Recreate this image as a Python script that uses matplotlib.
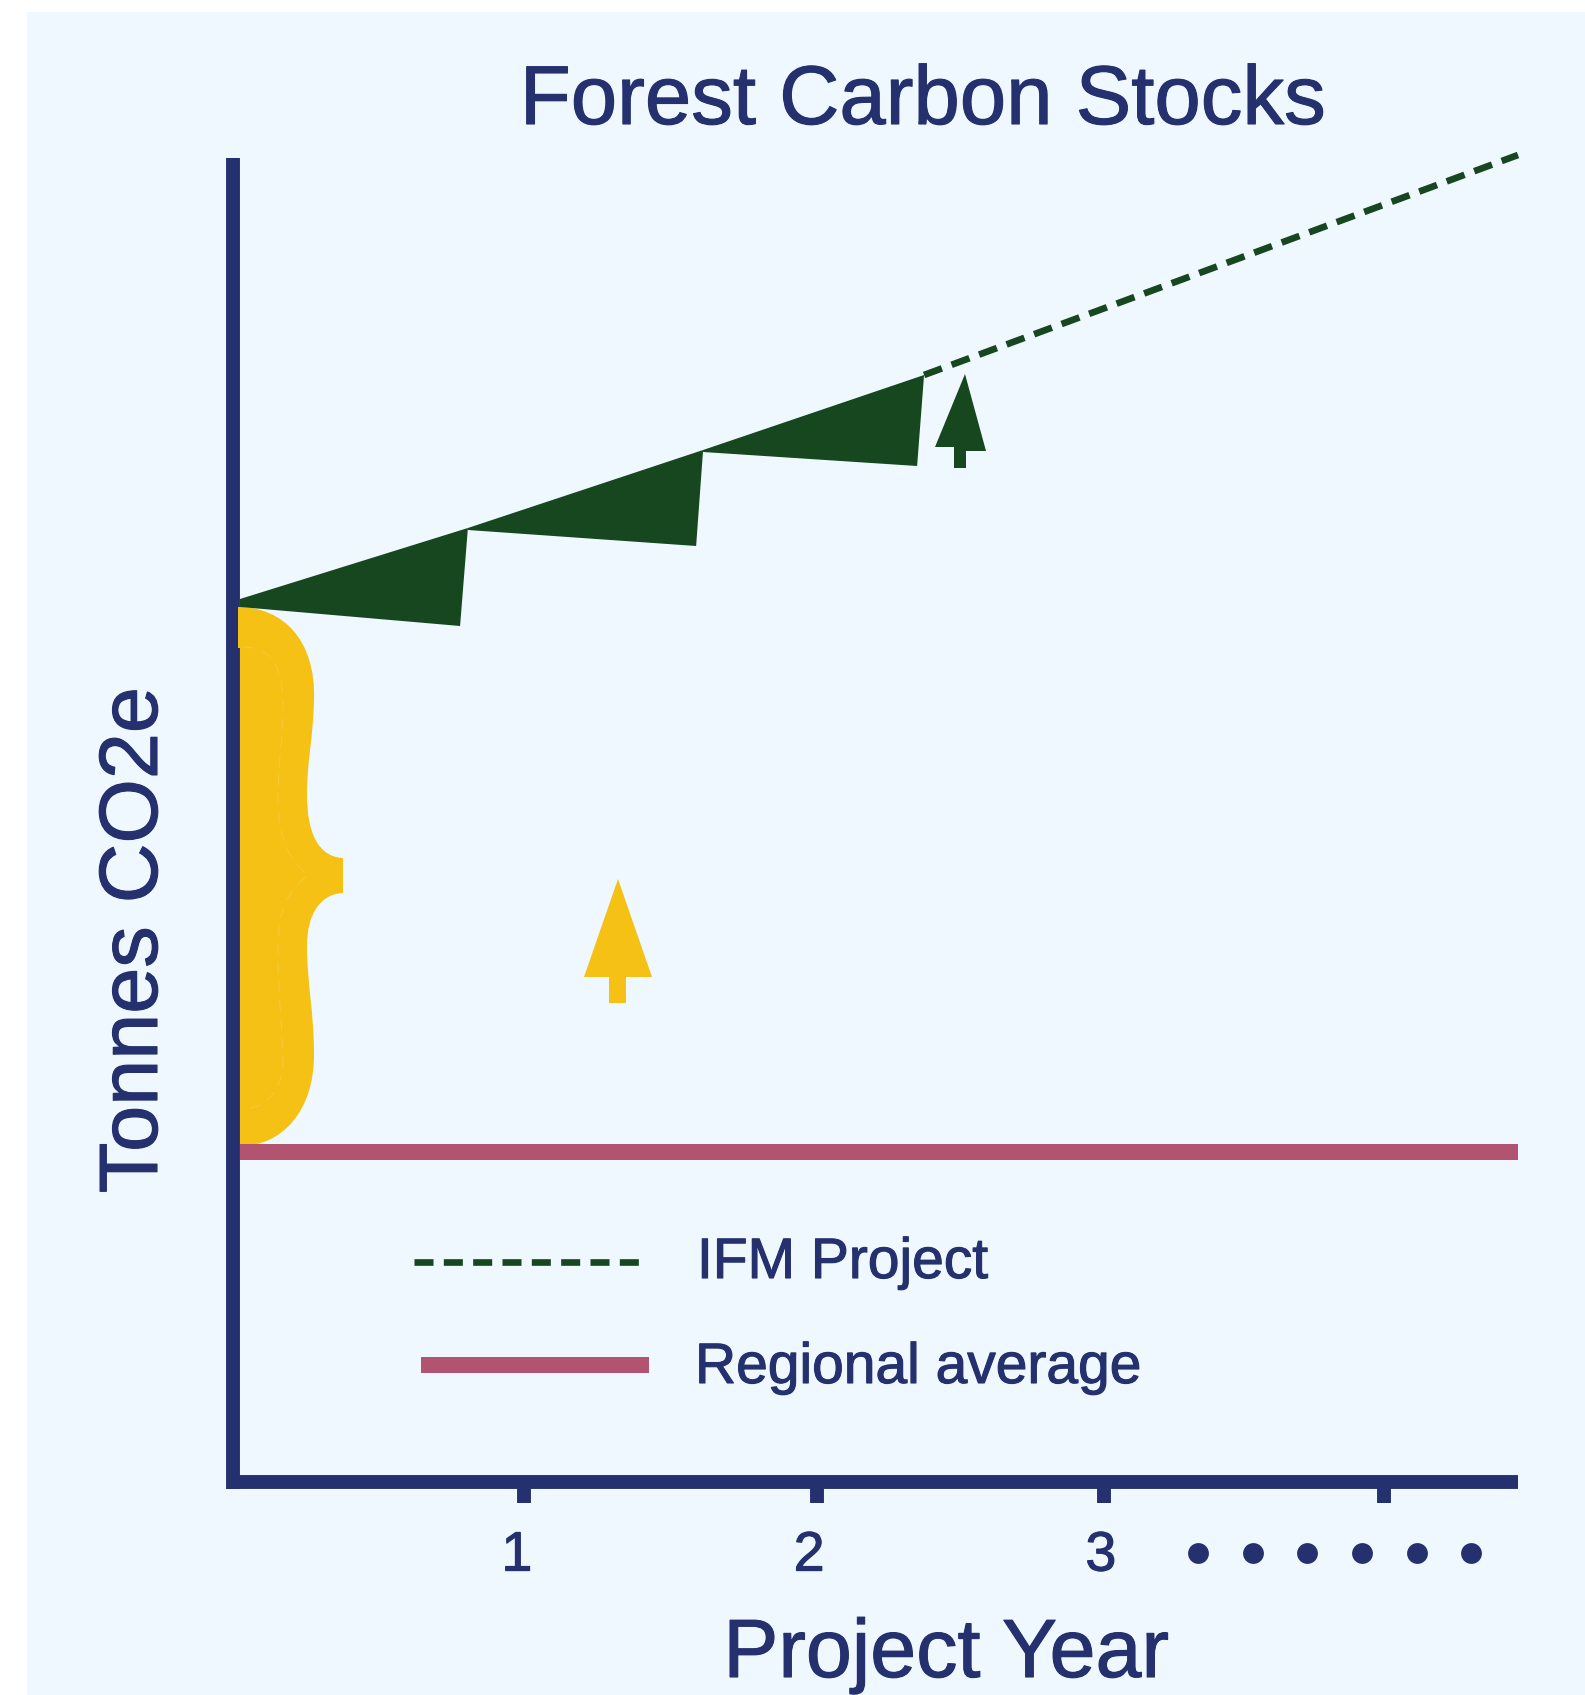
import matplotlib
matplotlib.use('Agg')
import matplotlib.pyplot as plt
import matplotlib.patheffects as pe
from matplotlib.patches import PathPatch, Polygon, Rectangle
from matplotlib.path import Path
from matplotlib.transforms import ScaledTranslation

W, H = 1585, 1695

# project years / tonnes (arbitrary units, the chart has no y scale)
project_x = [2.383, 4.431]
project_y = [11.07, 13.27]
regional_x = [0.024, 4.431]
regional_y = [3.305, 3.305]
wedge_top_x = [0.024, 0.81, 1.621, 2.383]
wedge_top_y = [8.83, 9.54, 10.32, 11.07]
wedge_start_x = [0.024, 0.81, 1.621]
wedge_start_y = [8.75, 9.52, 10.30]
wedge_low_x = [0.783, 1.597, 2.359]
wedge_low_y = [8.56, 9.36, 10.16]
tick_years = [1.003, 2.014, 3.003, 3.969]
tick_labels = ['1', '2', '3', '']
label_shift = [-7, -8, -3, 0]

navy = '#24316E'
green = '#17471F'
yellow = '#F4C114'
maroon = '#B25370'
panel = '#EFF8FE'

plt.rcParams['font.family'] = ['Liberation Sans', 'DejaVu Sans']
heavy = [pe.withStroke(linewidth=0.8, foreground=navy)]
dashes = (0, (2.85, 1.55))

fig = plt.figure(figsize=(W / 100, H / 100), dpi=100, facecolor='white')

# full figure layer in pixels for the drawn decoration and loose text
deco = fig.add_axes([0, 0, 1, 1])
deco.set_xlim(0, W)
deco.set_ylim(H, 0)
deco.axis('off')
deco.add_patch(Rectangle((27, 12), W - 27, H - 12, color=panel, lw=0))

ax = fig.add_axes([233 / W, (H - 1482) / H, (1518 - 233) / W, 1350 / H])
ax.patch.set_alpha(0)
ax.set_xlim(0, (1518 - 233) / 290)
ax.set_ylim(0, 13.5)

for s in ['top', 'right']:
    ax.spines[s].set_visible(False)
for s in ['left', 'bottom']:
    ax.spines[s].set_linewidth(10)
    ax.spines[s].set_color(navy)
    ax.spines[s].set_capstyle('butt')
ax.spines['left'].set_bounds(-0.07, 13.24)
ax.set_yticks([])
ax.set_xticks(tick_years)
ax.set_xticklabels(tick_labels)
ax.tick_params(axis='x', length=15, width=10, color=navy, labelcolor=navy,
               labelsize=40, pad=20)
for lab, dx in zip(ax.get_xticklabels(), label_shift):
    lab.set_transform(lab.get_transform() + ScaledTranslation(dx / 100, 0, fig.dpi_scale_trans))
    lab.set_path_effects(heavy)

# yearly growth wedges
for i in range(3):
    pts = [(wedge_top_x[i], wedge_top_y[i]),
           (wedge_top_x[i + 1], wedge_top_y[i + 1]),
           (wedge_low_x[i], wedge_low_y[i]),
           (wedge_start_x[i], wedge_start_y[i])]
    ax.add_patch(Polygon(pts, closed=True, facecolor=green, edgecolor='none', zorder=6))

ax.plot(project_x, project_y, color=green, lw=4.8, ls=dashes,
        dash_capstyle='butt', clip_on=False, zorder=5)
ax.plot(regional_x, regional_y, color=maroon, lw=11.5, solid_capstyle='butt', zorder=4)

# curly brace
C = Path.CURVE4
brace = [(238, 607),
         (283, 607), (316, 640), (314, 700),
         (313, 740), (307, 760), (307, 795),
         (307, 832), (318, 857), (343, 858),
         (343, 893),
         (320, 894), (307, 915), (307, 945),
         (307, 985), (314, 1010), (314, 1055),
         (314, 1110), (283, 1146), (240, 1146),
         (240, 648), (238, 648), (238, 607)]
codes = [Path.MOVETO, C, C, C, C, C, C, C, C, C, Path.LINETO, C, C, C, C, C, C, C, C, C,
         Path.LINETO, Path.LINETO, Path.CLOSEPOLY]
ax.add_patch(PathPatch(Path(brace, codes), facecolor=yellow, edgecolor='none', zorder=3,
                       transform=deco.transData, clip_on=False))
seam = [(243, 647),
        (270, 647), (283, 665), (283, 704),
        (283, 740), (278, 760), (278, 800),
        (278, 840), (290, 860), (308, 875),
        (290, 890), (278, 905), (278, 950),
        (278, 1000), (283, 1030), (283, 1062),
        (283, 1085), (270, 1105), (250, 1108)]
seam_codes = [Path.MOVETO] + [C] * 18
ax.add_patch(PathPatch(Path(seam, seam_codes), facecolor='none', edgecolor='#F5C838', lw=0.9,
                       ls=(0, (9, 6)), zorder=3.5, transform=deco.transData, clip_on=False))


def tree(base_l, base_r, apex, trunk, color):
    pts = [apex, base_r, (trunk[1], base_r[1]), (trunk[1], trunk[2]), (trunk[0], trunk[2]),
           (trunk[0], base_l[1]), base_l]
    ax.add_patch(Polygon(pts, closed=True, facecolor=color, edgecolor='none', zorder=6,
                         transform=deco.transData, clip_on=False))


tree((584, 977), (652, 977), (618, 879), (609, 626, 1003), yellow)
tree((935, 447), (986, 451), (965, 374), (954, 966, 468), green)

# dots after the last year label
dot_x = [1198, 1253, 1307, 1362, 1417, 1471]
deco.plot(dot_x, [1553] * 6, 'o', color=navy, ms=15, mew=0)

# legend, placed by hand
deco.plot([414, 644], [1262, 1262], color=green, lw=4.8, ls=dashes, dash_capstyle='butt')
deco.plot([421, 649], [1365, 1365], color=maroon, lw=11.5, solid_capstyle='butt')
deco.text(697, 1263, 'IFM Project', color=navy, fontsize=41, va='center', ha='left',
          path_effects=heavy)
deco.text(695, 1368, 'Regional average', color=navy, fontsize=41, va='center', ha='left',
          path_effects=heavy)

deco.text(923, 102, 'Forest Carbon Stocks', color=navy, fontsize=60, va='center', ha='center',
          path_effects=heavy)
deco.text(135, 940, 'Tonnes CO2e', color=navy, fontsize=59.6, rotation=90, va='center',
          ha='center', path_effects=heavy)
deco.text(946, 1655, 'Project Year', color=navy, fontsize=59.5, va='center', ha='center',
          path_effects=heavy)

fig.savefig('out.png', dpi=100, facecolor='white')
